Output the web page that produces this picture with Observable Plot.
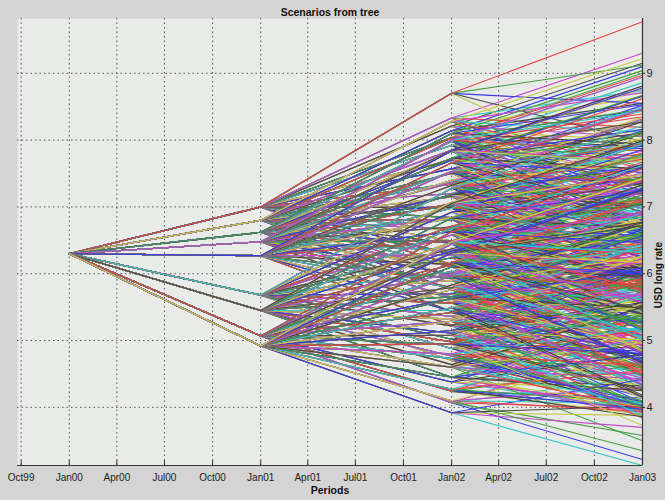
<!DOCTYPE html>
<html><head><meta charset="utf-8">
<script src="https://cdn.jsdelivr.net/npm/d3@7"></script>
<script src="https://cdn.jsdelivr.net/npm/@observablehq/plot@0.6"></script>
<style>body{margin:0;background:#d4d4d4;overflow:hidden}</style>
</head><body><div id="chart"></div>
<script>
// Tree dates (root, level 1, level 2, level 3)
const periods = ["2000-01-01", "2001-01-01", "2002-01-01", "2003-01-01"];
const rootRate = 6.30;
// Level 1 nodes (Jan01)
const jan01 = [7.00, 6.80, 6.62, 6.48, 6.27, 5.68, 5.45, 5.07, 4.92];
// Level 2 nodes (Jan02), children of each Jan01 node
const jan02 = [
  [5.93, 6.14, 6.29, 6.49, 6.64, 6.84, 6.99, 7.20, 7.34, 7.57, 7.70, 7.92, 8.04, 8.21, 8.33, 8.70],
  [5.76, 5.97, 6.12, 6.32, 6.46, 6.67, 6.81, 7.02, 7.15, 7.37, 7.50, 7.72, 7.85, 8.03, 8.14, 8.28],
  [5.62, 5.77, 5.97, 6.11, 6.32, 6.46, 6.67, 6.81, 7.02, 7.16, 7.36, 7.51, 7.70, 7.83, 7.98, 8.10],
  [5.44, 5.65, 5.79, 6.00, 6.14, 6.35, 6.49, 6.70, 6.84, 7.05, 7.18, 7.40, 7.53, 7.73, 7.85, 8.00],
  [5.23, 5.44, 5.58, 5.79, 5.93, 6.14, 6.28, 6.49, 6.63, 6.84, 6.98, 7.19, 7.32, 7.53, 7.66, 7.84],
  [4.70, 4.88, 5.02, 5.22, 5.36, 5.56, 5.70, 5.90, 6.03, 6.24, 6.37, 6.58, 6.71, 6.92, 7.07, 7.28],
  [4.45, 4.64, 4.77, 4.98, 5.11, 5.32, 5.45, 5.66, 5.79, 6.00, 6.13, 6.34, 6.47, 6.68, 6.83, 7.05],
  [4.07, 4.24, 4.38, 4.60, 4.73, 4.94, 5.08, 5.29, 5.42, 5.63, 5.76, 5.97, 6.10, 6.31, 6.44, 6.63],
  [3.92, 4.10, 4.27, 4.45, 4.60, 4.80, 4.95, 5.15, 5.29, 5.49, 5.63, 5.83, 5.97, 6.17, 6.31, 6.48]
];
// Level 3 values (Jan03), children of each Jan02 node
const jan03 = [
  [[4.63,5.21,5.80,6.35,6.88],[4.82,5.44,5.97,6.57,7.10],[5.00,5.55,6.15,6.70,7.22],[5.18,5.78,6.33,6.92,7.45],
   [5.35,5.90,6.50,7.05,7.58],[5.52,6.13,6.68,7.27,7.80],[5.70,6.26,6.85,7.40,7.93],[5.88,6.50,7.04,7.63,8.14],
   [6.05,6.61,7.20,7.75,8.30],[6.26,6.86,7.41,8.00,8.52],[6.41,6.97,7.56,8.11,8.66],[6.60,7.21,7.76,8.35,8.86],
   [6.75,7.31,7.90,8.45,9.00],[6.90,7.50,8.05,8.64,9.15],[7.04,7.60,8.19,8.74,9.30],[7.40,7.98,8.55,9.12,9.77]],
  [[4.47,5.03,5.62,6.17,6.72],[4.66,5.26,5.81,6.40,6.91],[4.83,5.39,5.98,6.53,7.08],[5.01,5.61,6.16,6.75,7.26],
   [5.17,5.73,6.32,6.87,7.42],[5.36,5.96,6.51,7.10,7.61],[5.52,6.08,6.67,7.22,7.77],[5.71,6.31,6.86,7.45,7.96],
   [5.86,6.42,7.01,7.56,8.11],[6.06,6.66,7.21,7.80,8.31],[6.21,6.77,7.36,7.91,8.46],[6.41,7.01,7.56,8.15,8.66],
   [6.56,7.12,7.71,8.26,8.81],[6.72,7.32,7.87,8.46,8.97],[6.85,7.41,8.00,8.55,9.10],[6.97,7.57,8.12,8.71,9.22]],
  [[4.33,4.89,5.48,6.03,6.58],[4.46,5.06,5.61,6.20,6.71],[4.68,5.24,5.83,6.38,6.93],[4.80,5.40,5.95,6.54,7.05],
   [5.03,5.59,6.18,6.73,7.28],[5.15,5.75,6.30,6.89,7.40],[5.38,5.94,6.53,7.08,7.63],[5.50,6.10,6.65,7.24,7.75],
   [5.73,6.29,6.88,7.43,7.98],[5.85,6.45,7.00,7.59,8.10],[6.07,6.63,7.22,7.77,8.32],[6.20,6.80,7.35,7.94,8.45],
   [6.41,6.97,7.56,8.11,8.66],[6.52,7.12,7.67,8.26,8.77],[6.69,7.25,7.84,8.39,8.94],[6.79,7.39,7.94,8.53,9.04]],
  [[4.15,4.71,5.30,5.85,6.40],[4.34,4.94,5.49,6.08,6.59],[4.50,5.06,5.65,6.20,6.75],[4.69,5.29,5.84,6.43,6.94],
   [4.85,5.41,6.00,6.55,7.10],[5.04,5.64,6.19,6.78,7.29],[5.20,5.76,6.35,6.90,7.45],[5.39,5.99,6.54,7.13,7.64],
   [5.55,6.11,6.70,7.25,7.80],[5.74,6.34,6.89,7.48,7.99],[5.89,6.45,7.04,7.59,8.14],[6.09,6.69,7.24,7.83,8.34],
   [6.24,6.80,7.39,7.94,8.49],[6.42,7.02,7.57,8.16,8.67],[6.56,7.12,7.71,8.26,8.81],[6.69,7.29,7.84,8.43,8.94]],
  [[3.94,4.50,5.09,5.64,6.19],[4.13,4.73,5.28,5.87,6.38],[4.29,4.85,5.44,5.99,6.54],[4.48,5.08,5.63,6.22,6.73],
   [4.64,5.20,5.79,6.34,6.89],[4.83,5.43,5.98,6.57,7.08],[4.99,5.55,6.14,6.69,7.24],[5.18,5.78,6.33,6.92,7.43],
   [5.34,5.90,6.49,7.04,7.59],[5.53,6.13,6.68,7.27,7.78],[5.69,6.25,6.84,7.39,7.94],[5.88,6.48,7.03,7.62,8.13],
   [6.03,6.59,7.18,7.73,8.28],[6.22,6.82,7.37,7.96,8.47],[6.37,6.93,7.52,8.07,8.62],[6.53,7.13,7.68,8.27,8.78]],
  [[3.92,4.02,4.56,5.12,5.65],[4.00,4.16,4.73,5.31,5.82],[3.96,4.31,4.88,5.44,5.97],[3.93,4.50,5.07,5.65,6.16],
   [4.07,4.63,5.22,5.77,6.32],[4.25,4.85,5.40,5.99,6.50],[4.41,4.97,5.56,6.11,6.66],[4.59,5.19,5.74,6.33,6.84],
   [4.74,5.30,5.89,6.44,6.99],[4.93,5.53,6.08,6.67,7.18],[5.08,5.64,6.23,6.78,7.33],[5.27,5.87,6.42,7.01,7.52],
   [5.42,5.98,6.57,7.12,7.67],[5.61,6.21,6.76,7.35,7.86],[5.78,6.34,6.93,7.48,8.03],[5.97,6.57,7.12,7.71,8.22]],
  [[3.88,3.95,4.32,4.88,5.40],[3.95,4.05,4.50,5.06,5.58],[4.02,4.10,4.64,5.20,5.72],[3.98,4.28,4.84,5.40,5.93],
   [3.86,4.40,4.97,5.53,6.06],[4.03,4.61,5.17,5.75,6.26],[4.16,4.72,5.31,5.86,6.41],[4.35,4.95,5.50,6.09,6.60],
   [4.50,5.06,5.65,6.20,6.75],[4.69,5.29,5.84,6.43,6.94],[4.84,5.40,5.99,6.54,7.09],[5.03,5.63,6.18,6.77,7.28],
   [5.18,5.74,6.33,6.88,7.43],[5.37,5.97,6.52,7.11,7.62],[5.54,6.10,6.69,7.24,7.79],[5.74,6.34,6.89,7.48,7.99]],
  [[3.22,3.58,3.98,4.45,4.98],[3.90,3.99,4.14,4.65,5.15],[3.95,4.03,4.27,4.80,5.30],[3.50,3.98,4.48,5.02,5.55],
   [4.00,4.08,4.60,5.16,5.68],[3.97,4.25,4.80,5.36,5.89],[3.84,4.38,4.94,5.50,6.03],[4.00,4.58,5.15,5.72,6.23],
   [4.13,4.69,5.28,5.83,6.38],[4.32,4.92,5.47,6.06,6.57],[4.47,5.03,5.62,6.17,6.72],[4.66,5.26,5.81,6.40,6.91],
   [4.81,5.37,5.96,6.51,7.06],[5.00,5.60,6.15,6.74,7.25],[5.15,5.71,6.30,6.85,7.40],[5.32,5.92,6.47,7.06,7.57]],
  [[3.13,3.70,3.88,4.02,4.42],[3.35,3.94,4.06,4.30,4.78],[3.86,3.97,4.08,4.55,5.05],[3.92,4.01,4.25,4.78,5.30],
   [3.98,4.06,4.42,4.97,5.50],[4.02,4.10,4.62,5.18,5.72],[3.73,4.26,4.81,5.37,5.90],[3.88,4.44,5.01,5.57,6.10],
   [4.00,4.56,5.15,5.70,6.25],[4.18,4.78,5.33,5.92,6.43],[4.34,4.90,5.49,6.04,6.59],[4.52,5.12,5.67,6.26,6.77],
   [4.68,5.24,5.83,6.38,6.93],[4.86,5.46,6.01,6.60,7.11],[5.02,5.58,6.17,6.72,7.27],[5.17,5.77,6.32,6.91,7.42]]
];
const xTickDates = ["1999-10-01","2000-01-01","2000-04-01","2000-07-01","2000-10-01","2001-01-01","2001-04-01","2001-07-01","2001-10-01","2002-01-01","2002-04-01","2002-07-01","2002-10-01","2003-01-01"];
const yTicks = [4, 5, 6, 7, 8, 9];
const lineColors = ["#3b3be6", "#3f9f3f", "#e34545", "#35c6c6", "#c845c8", "#c8c845", "#454545"];

const rows = [];
let id = 0;
jan01.forEach((v1, i) => jan02[i].forEach((v2, j) => jan03[i][j].forEach(v3 => {
  [rootRate, v1, v2, v3].forEach((v, k) => rows.push({t: new Date(periods[k]), v, id, c: lineColors[id % lineColors.length]}));
  id++;
})));

const xTicks = xTickDates.map(d => new Date(d));
const xDomain = [new Date("1999-09-24"), new Date("2003-01-01")];
const yDomain = [3.13, 9.82];
const fmt = d3.utcFormat("%b%y");

const chart = Plot.plot({
  width: 665, height: 500,
  marginLeft: 17, marginRight: 23, marginTop: 18, marginBottom: 35,
  style: {background: "#d4d4d4", fontFamily: "'Liberation Sans', Arial, sans-serif", fontSize: "10px", color: "#222"},
  x: {type: "utc", domain: xDomain},
  y: {domain: yDomain},
  color: {type: "identity"},
  marks: [
    Plot.frame({fill: "#e9ebe8", stroke: "none"}),
    Plot.gridX(xTicks, {stroke: "#3a3a3a", strokeOpacity: 0.85, strokeDasharray: "1.5,3"}),
    Plot.gridY(yTicks, {stroke: "#3a3a3a", strokeOpacity: 0.85, strokeDasharray: "1.5,3"}),
    Plot.line(rows, {x: "t", y: "v", z: "id", stroke: "c", strokeWidth: 1.1}),
    Plot.ruleY([yDomain[0]], {stroke: "#333", strokeWidth: 1.2}),
    Plot.ruleX([xDomain[1]], {stroke: "#333", strokeWidth: 1.2}),
    Plot.ruleX(xTicks, {y1: yDomain[0], y2: yDomain[0] + 0.07, stroke: "#333"}),
    Plot.axisX(xTicks, {tickFormat: fmt, tickSize: 0, tickPadding: 8, fontSize: 10, label: null}),
    Plot.axisY(yTicks, {anchor: "right", tickSize: 2, tickPadding: 2, fontSize: 11, tickFormat: d => String(d), label: null}),
    Plot.text(["Scenarios from tree"], {frameAnchor: "top", dy: -10, fontWeight: "bold", fontSize: 10.5, fill: "#111"}),
    Plot.text(["Periods"], {frameAnchor: "bottom", dy: 28, fontWeight: "bold", fontSize: 10.5, fill: "#111"}),
    Plot.text(["USD long rate"], {frameAnchor: "right", dx: 16, rotate: -90, fontSize: 10, fontWeight: "bold", fill: "#111"})
  ]
});
document.getElementById("chart").appendChild(chart);
</script>
</body></html>
